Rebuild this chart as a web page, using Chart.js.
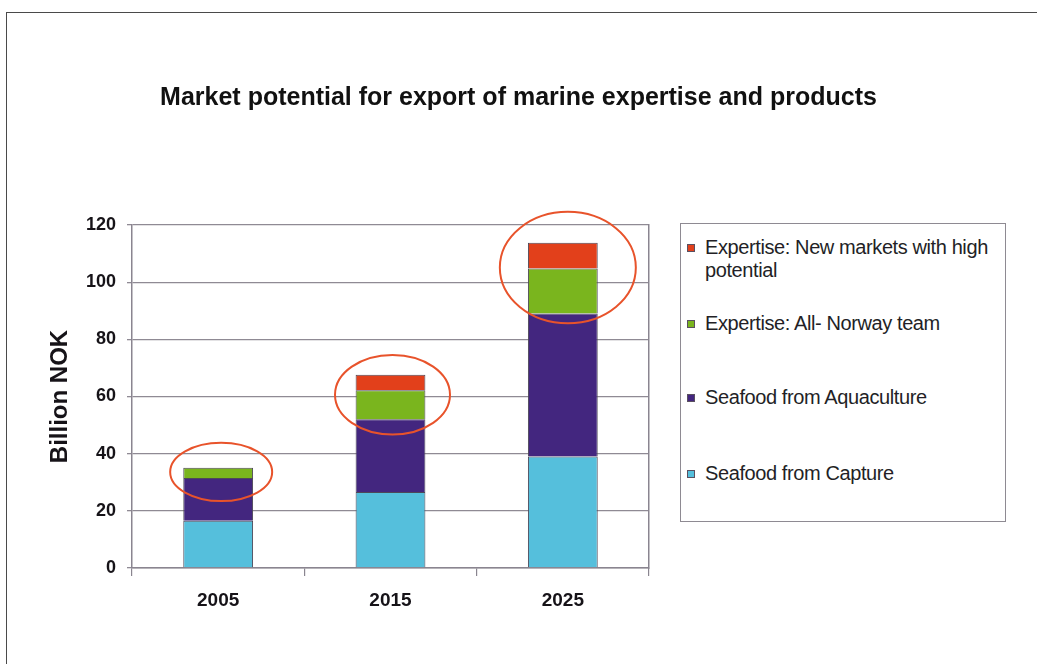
<!DOCTYPE html>
<html>
<head>
<meta charset="utf-8">
<script src="https://cdn.jsdelivr.net/npm/chart.js@4/dist/chart.umd.min.js"></script>
<style>
  html, body { margin: 0; padding: 0; background: #fff; }
  #wrap { position: relative; width: 1037px; height: 664px; overflow: hidden; font-family: "Liberation Sans", Arial, sans-serif; }
  #frame { position: absolute; left: 6px; top: 12px; width: 1100px; height: 700px;
           border-top: 1.5px solid #4a4a4a; border-left: 1.5px solid #4a4a4a; }
  canvas { position: absolute; left: 0; top: 0; }
  #legend { position: absolute; left: 680px; top: 223px; width: 326px; height: 299px;
            border: 1px solid #8e8a92; box-sizing: border-box; background: #fff; }
  .item { position: absolute; left: 6px; width: 315px; font-size: 20px; line-height: 23px;
          color: #231f26; letter-spacing: -0.4px; }
  .swatch { position: absolute; left: 0; top: 8px; width: 6px; height: 6px; border: 1px solid #5a5060; }
  .text { position: absolute; left: 18px; top: 0; width: 300px; }
</style>
</head>
<body>
<div id="wrap">
  <canvas id="c" width="1037" height="664"></canvas>
  <div id="frame"></div>
  <div id="legend"></div>
</div>
<script>
// Years on the x axis
const years = ['2005', '2015', '2025'];

// Series values, billion NOK, stacked from the bottom up
const captureValues = [16.5, 26.6, 39];
const aquacultureValues = [15, 25.4, 50];
const allNorwayValues = [3.6, 10.2, 15.8];
const newMarketsValues = [0, 5.4, 9];

// Series names
const seriesNames = [
  'Seafood from Capture',
  'Seafood from Aquaculture',
  'Expertise: All- Norway team',
  'Expertise: New markets with high potential'
];

// Y axis range and step
const yMin = 0, yMax = 120, yStep = 20;

// Growth-area rings: year index and the value span each ring encloses
const ringYear = [0, 1, 2];
const ringLow = [23.4, 46.7, 85.6];
const ringHigh = [43.8, 74.5, 124.6];

const colors = ['#55bfdc', '#43267f', '#7ab51e', '#e2401b'];
const seriesValues = [captureValues, aquacultureValues, allNorwayValues, newMarketsValues];
const fontFamily = '"Liberation Sans", Arial, sans-serif';

const ringPlugin = {
  id: 'rings',
  afterDatasetsDraw(chart) {
    const { ctx, scales } = chart;
    const halfWidths = [51, 57.5, 68];
    const xShift = [3, 2, 5];
    ctx.save();
    ctx.strokeStyle = '#e8532b';
    ctx.lineWidth = 2;
    ringYear.forEach((yi, i) => {
      const cx = scales.x.getPixelForValue(yi) + xShift[i];
      const top = scales.y.getPixelForValue(ringHigh[i]);
      const bottom = scales.y.getPixelForValue(ringLow[i]);
      ctx.beginPath();
      ctx.ellipse(cx, (top + bottom) / 2, halfWidths[i], (bottom - top) / 2, 0, 0, Math.PI * 2);
      ctx.stroke();
    });
    ctx.restore();
  }
};

const chart = new Chart(document.getElementById('c'), {
  type: 'bar',
  data: {
    labels: years,
    datasets: seriesNames.map((name, i) => ({
      label: name,
      data: seriesValues[i],
      backgroundColor: colors[i],
      borderColor: '#4d4858',
      borderWidth: 1,
      barPercentage: 0.405,
      categoryPercentage: 1
    }))
  },
  options: {
    responsive: false,
    animation: false,
    layout: { padding: 0 },
    plugins: {
      legend: { display: false },
      tooltip: { enabled: false },
      title: {
        display: true,
        text: 'Market potential for export of marine expertise and products',
        color: '#111',
        font: { family: fontFamily, size: 25, weight: 'bold' },
        padding: { top: 83, bottom: 112 }
      }
    },
    scales: {
      x: {
        stacked: true,
        afterFit(scale) { scale.height = 96; },
        grid: { drawOnChartArea: false, drawTicks: true, tickLength: 8, color: '#8a8590', lineWidth: 1.2, offset: true },
        border: { color: '#8a8590', width: 1.5 },
        ticks: { color: '#161318', padding: 13, font: { family: fontFamily, size: 19, weight: 'bold' } }
      },
      y: {
        stacked: true,
        min: yMin, max: yMax,
        afterFit(scale) { scale.width = 132; },
        grid: { color: '#8f8a94', lineWidth: 1.3, tickLength: 5 },
        border: { color: '#8a8590', width: 1.5 },
        ticks: { stepSize: yStep, color: '#161318', padding: 11, font: { family: fontFamily, size: 18, weight: 'bold' } },
        title: {
          display: true, text: 'Billion NOK', color: '#161318',
          font: { family: fontFamily, size: 24, weight: 'bold' },
          padding: { top: 46, bottom: 0 }
        }
      },
      y2: {
        position: 'right',
        min: yMin, max: yMax,
        afterFit(scale) { scale.width = 388; },
        grid: { drawOnChartArea: false, drawTicks: false },
        border: { color: '#8a8590', width: 1.5 },
        ticks: { display: false }
      }
    }
  },
  plugins: [ringPlugin]
});

// Legend listed from the top segment down
const legendEl = document.getElementById('legend');
const itemTops = [12, 88, 162, 238];
chart.data.datasets.slice().reverse().forEach((ds, i) => {
  const item = document.createElement('div');
  item.className = 'item';
  item.style.top = itemTops[i] + 'px';
  const sw = document.createElement('span');
  sw.className = 'swatch';
  sw.style.background = ds.backgroundColor;
  const tx = document.createElement('span');
  tx.className = 'text';
  tx.textContent = ds.label;
  item.appendChild(sw);
  item.appendChild(tx);
  legendEl.appendChild(item);
});
</script>
</body>
</html>
